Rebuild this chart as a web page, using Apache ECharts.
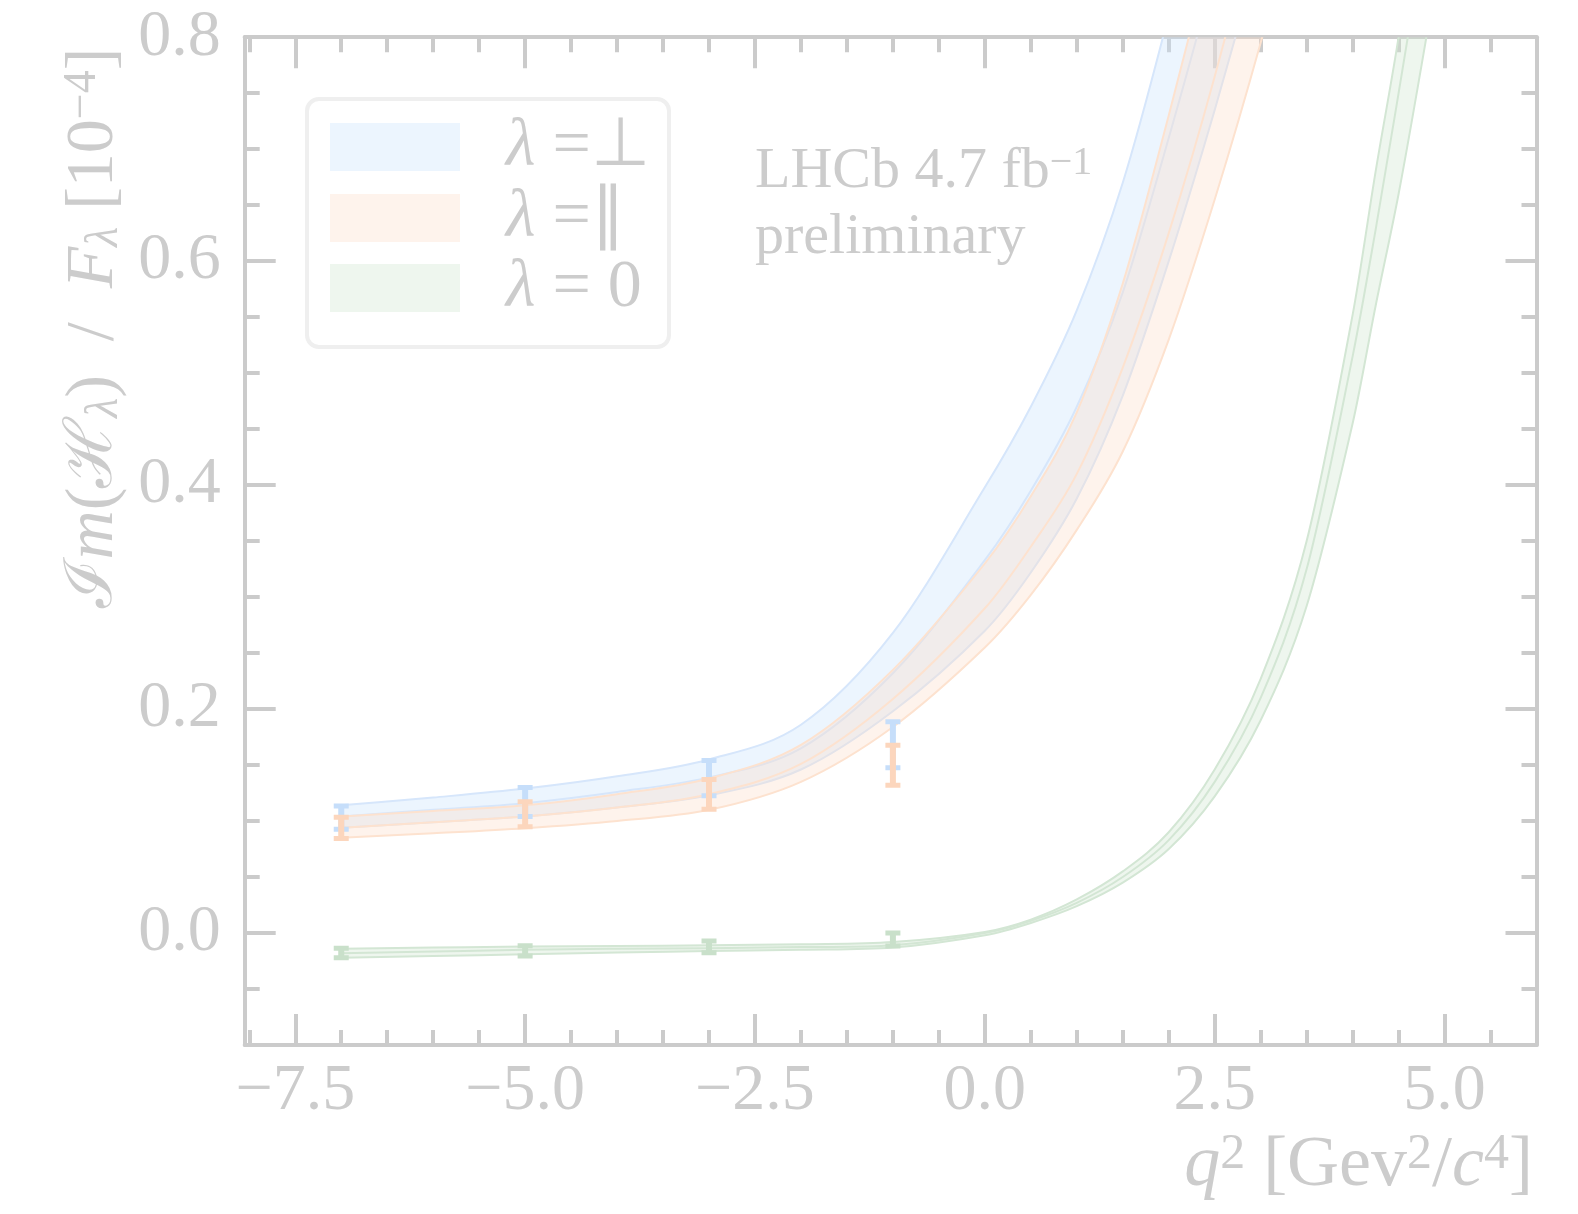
<!DOCTYPE html>
<html>
<head>
<meta charset="utf-8">
<script src="https://cdn.jsdelivr.net/npm/echarts@6/dist/echarts.min.js"></script>
<style>
  html, body { margin: 0; padding: 0; background: #ffffff; }
  #chart { width: 1578px; height: 1214px; }
</style>
</head>
<body>
<div id="chart"></div>
<script>
// ---- axis ticks ----
const xMajorTicks = [-7.5, -5.0, -2.5, 0.0, 2.5, 5.0];
const xMinorTicks = [-8.0, -7.0, -6.5, -6.0, -5.5, -4.5, -4.0, -3.5, -3.0, -2.0, -1.5, -1.0, -0.5,
                     0.5, 1.0, 1.5, 2.0, 3.0, 3.5, 4.0, 4.5, 5.5, 6.0];
const yMajorTicks = [0.0, 0.2, 0.4, 0.6, 0.8];
const yMinorTicks = [-0.05, 0.05, 0.1, 0.15, 0.25, 0.3, 0.35, 0.45, 0.5, 0.55, 0.65, 0.7, 0.75];

// ---- fitted bands: lambda = perp ----
const qPerp      = [-7, -6, -5, -4, -3, -2, -1, 0, 0.5, 1, 1.5, 2, 2.5, 3];
const perpLower  = [0.094, 0.099, 0.104, 0.112, 0.123, 0.146, 0.198, 0.270, 0.322, 0.388, 0.480, 0.600, 0.735, 0.880];
const perpCenter = [0.104, 0.110, 0.116, 0.126, 0.139, 0.165, 0.232, 0.333, 0.395, 0.470, 0.572, 0.710, 0.860, 1.030];
const perpUpper  = [0.114, 0.121, 0.129, 0.140, 0.155, 0.186, 0.268, 0.398, 0.470, 0.556, 0.670, 0.820, 0.990, 1.180];

// ---- fitted bands: lambda = parallel ----
const qPar      = [-7, -6, -5, -4, -3, -2, -1, 0, 0.5, 1, 1.5, 2, 2.5, 3, 3.5];
const parLower  = [0.085, 0.089, 0.0935, 0.100, 0.110, 0.135, 0.184, 0.255, 0.302, 0.360, 0.430, 0.530, 0.655, 0.795, 0.950];
const parCenter = [0.094, 0.099, 0.104, 0.112, 0.124, 0.151, 0.209, 0.290, 0.345, 0.410, 0.505, 0.625, 0.765, 0.925, 1.100];
const parUpper  = [0.104, 0.109, 0.114, 0.124, 0.138, 0.168, 0.235, 0.330, 0.390, 0.465, 0.580, 0.730, 0.890, 1.060, 1.250];

// ---- fitted bands: lambda = 0 ----
const qZero      = [-7, -6, -5, -4, -3, -2, -1, 0, 0.5, 1, 1.5, 2, 2.5, 3, 3.5, 4, 4.25, 4.5, 4.75, 5];
const zeroLower  = [-0.022, -0.0205, -0.019, -0.0175, -0.016, -0.015, -0.013, -0.002, 0.009, 0.024, 0.045, 0.075, 0.122, 0.190, 0.292, 0.455, 0.560, 0.660, 0.775, 0.895];
const zeroCenter = [-0.018, -0.0165, -0.015, -0.014, -0.0135, -0.0125, -0.011, 0.000, 0.011, 0.027, 0.050, 0.083, 0.135, 0.210, 0.325, 0.515, 0.628, 0.750, 0.875, 1.000];
const zeroUpper  = [-0.014, -0.013, -0.012, -0.0115, -0.011, -0.010, -0.008, 0.001, 0.012, 0.030, 0.055, 0.090, 0.146, 0.227, 0.350, 0.552, 0.680, 0.800, 0.940, 1.080];

// ---- measurements with uncertainties ----
const qPoints   = [-7, -5, -3, -1];
const perpErrLo = [0.0926, 0.104, 0.1226, 0.1476];
const perpErrHi = [0.1134, 0.130, 0.154, 0.1887];
const parErrLo  = [0.0845, 0.0949, 0.1105, 0.132];
const parErrHi  = [0.1033, 0.1173, 0.137, 0.1676];
const zeroErrLo = [-0.022, -0.0205, -0.0176, -0.0116];
const zeroErrHi = [-0.0137, -0.0113, -0.0071, 0.0];

const AXIS = '#cbcbcb';
const TEXT = '#cccccc';
const SERIF = '"Liberation Serif", "Times New Roman", serif';
const CAL = '"DejaVu Serif", "Liberation Serif", serif';

const fmt = v => v.toFixed(1).replace('-', '\u2212');

// Cubic Hermite curve through pixel points (x increasing), as Bezier path commands
function curvePath(pts, cmd) {
  const n = pts.length;
  const forward = pts[n - 1][0] >= pts[0][0];
  const P = forward ? pts : pts.slice().reverse();
  const m = P.map((p, i) => {
    const a = P[Math.max(i - 1, 0)], b = P[Math.min(i + 1, n - 1)];
    return (b[1] - a[1]) / (b[0] - a[0]);
  });
  const segs = [];
  for (let i = 0; i < n - 1; i++) {
    const h = (P[i + 1][0] - P[i][0]) / 3;
    segs.push([[P[i][0] + h, P[i][1] + m[i] * h], [P[i + 1][0] - h, P[i + 1][1] - m[i + 1] * h], P[i + 1]]);
  }
  const f = v => v.toFixed(2);
  let d;
  if (forward) {
    d = cmd + f(P[0][0]) + ' ' + f(P[0][1]);
    segs.forEach(s => { d += ' C' + f(s[0][0]) + ' ' + f(s[0][1]) + ' ' + f(s[1][0]) + ' ' + f(s[1][1]) + ' ' + f(s[2][0]) + ' ' + f(s[2][1]); });
  } else {
    d = cmd + f(P[n - 1][0]) + ' ' + f(P[n - 1][1]);
    for (let i = n - 2; i >= 0; i--) {
      const s = segs[i];
      d += ' C' + f(s[1][0]) + ' ' + f(s[1][1]) + ' ' + f(s[0][0]) + ' ' + f(s[0][1]) + ' ' + f(P[i][0]) + ' ' + f(P[i][1]);
    }
  }
  return d;
}

function bandSeries(name, q, lo, mid, hi, fill, edge) {
  return {
    type: 'custom', name: name, silent: true, clip: true,
    xAxisIndex: 0, yAxisIndex: 0,
    encode: { x: 0, y: [1, 2, 3] },
    data: q.map((x, i) => [x, lo[i], mid[i], hi[i]]),
    renderItem: function (params, api) {
      if (params.dataIndex !== 0) return null;
      const n = params.dataInsideLength;
      const col = k => {
        const out = [];
        for (let i = 0; i < n; i++) out.push(api.coord([api.value(0, i), api.value(k, i)]));
        return out;
      };
      const pLo = col(1), pMid = col(2), pHi = col(3);
      const area = curvePath(pHi, 'M') + ' ' + curvePath(pLo.slice().reverse(), 'L') + ' Z';
      const lineStyle = { stroke: edge, lineWidth: 2, fill: null };
      return {
        type: 'group',
        children: [
          { type: 'path', shape: { pathData: area }, style: { fill: fill, stroke: null } },
          { type: 'path', shape: { pathData: curvePath(pLo, 'M') }, style: lineStyle },
          { type: 'path', shape: { pathData: curvePath(pHi, 'M') }, style: lineStyle },
          { type: 'path', shape: { pathData: curvePath(pMid, 'M') }, style: lineStyle }
        ]
      };
    }
  };
}

function errorSeries(name, lo, hi, color) {
  return {
    type: 'custom', name: name, silent: true, clip: true, z: 5,
    xAxisIndex: 0, yAxisIndex: 0,
    encode: { x: 0, y: [1, 2] },
    data: qPoints.map((q, i) => [q, lo[i], hi[i]]),
    renderItem: function (params, api) {
      const x = api.value(0);
      const pLo = api.coord([x, api.value(1)]);
      const pHi = api.coord([x, api.value(2)]);
      const hw = 7.5;
      const st = { stroke: color, lineWidth: 5 };
      return {
        type: 'group',
        children: [
          { type: 'line', shape: { x1: pLo[0], y1: pLo[1], x2: pHi[0], y2: pHi[1] },
            style: { stroke: color, lineWidth: 6 } },
          { type: 'line', shape: { x1: pLo[0] - hw, y1: pLo[1], x2: pLo[0] + hw, y2: pLo[1] }, style: st },
          { type: 'line', shape: { x1: pHi[0] - hw, y1: pHi[1], x2: pHi[0] + hw, y2: pHi[1] }, style: st }
        ]
      };
    }
  };
}

function xAxisDef(pos, ticks, len, showLine, showLabel) {
  return {
    type: 'value', min: -8.05, max: 6.0, position: pos,
    axisLine: { show: showLine, onZero: false, lineStyle: { color: AXIS, width: 4 } },
    axisTick: { show: true, inside: true, length: len, customValues: ticks,
                lineStyle: { color: AXIS, width: 4 } },
    axisLabel: { show: showLabel, customValues: ticks, formatter: fmt, color: TEXT,
                 fontSize: 66, fontFamily: SERIF, margin: 14 },
    splitLine: { show: false }
  };
}

function yAxisDef(pos, ticks, len, showLine, showLabel) {
  return {
    type: 'value', min: -0.1, max: 0.8, position: pos,
    axisLine: { show: showLine, onZero: false, lineStyle: { color: AXIS, width: 4 } },
    axisTick: { show: true, inside: true, length: len, customValues: ticks,
                lineStyle: { color: AXIS, width: 4 } },
    axisLabel: { show: showLabel, customValues: ticks, formatter: fmt, color: TEXT,
                 fontSize: 66, fontFamily: SERIF, margin: 24 },
    splitLine: { show: false }
  };
}

const supStyle = { fontSize: 46, fontFamily: SERIF, fill: TEXT, verticalAlign: 'top' };
const subStyle = { fontSize: 46, fontFamily: SERIF, fontStyle: 'italic', fill: TEXT, verticalAlign: 'bottom' };
const itStyle = { fontSize: 68, fontFamily: SERIF, fontStyle: 'italic', fill: TEXT };
const calStyle = { fontSize: 66, fontFamily: CAL, fill: TEXT };
const rmStyle = { fontSize: 68, fontFamily: SERIF, fill: TEXT };
const xSup = { fontSize: 50, fontFamily: SERIF, fill: TEXT, verticalAlign: 'top' };
const xIt = { fontSize: 72, fontFamily: SERIF, fontStyle: 'italic', fill: TEXT };
const xRm = { fontSize: 72, fontFamily: SERIF, fill: TEXT };

const legendRows = [
  { y: 147, fill: 'rgba(200,225,252,0.35)', text: '{it|\u03bb}{rm| =\u22a5}' },
  { y: 218, fill: 'rgba(252,222,200,0.35)', text: '{it|\u03bb}{rm| =\u2225}' },
  { y: 288, fill: 'rgba(205,228,207,0.35)', text: '{it|\u03bb}{rm| = 0}' }
];

const graphics = [
  { type: 'rect', shape: { x: 307, y: 99, width: 362, height: 248, r: 12 },
    style: { fill: 'rgba(255,255,255,0.8)', stroke: '#efefef', lineWidth: 4 }, z: 10 }
];
legendRows.forEach(r => {
  graphics.push({ type: 'rect', shape: { x: 330, y: r.y - 24, width: 130, height: 48 },
                  style: { fill: r.fill }, z: 11 });
  graphics.push({ type: 'text', x: 506, y: r.y, z: 11,
                  style: { text: r.text, align: 'left', verticalAlign: 'middle',
                           rich: { it: itStyle, rm: rmStyle } } });
});
graphics.push({ type: 'text', x: 755, y: 172, z: 11,
  style: { text: '{rm|LHCb 4.7 fb}{sup|\u22121}', align: 'left', verticalAlign: 'middle',
           rich: { rm: { fontSize: 58, fontFamily: SERIF, fill: TEXT },
                   sup: { fontSize: 40, fontFamily: SERIF, fill: TEXT, verticalAlign: 'top' } } } });
graphics.push({ type: 'text', x: 755, y: 238, z: 11,
  style: { text: 'preliminary', align: 'left', verticalAlign: 'middle',
           fontSize: 58, fontFamily: SERIF, fill: TEXT } });
// y-axis title, reading bottom to top
graphics.push({ type: 'text', x: 94, y: 328, rotation: Math.PI / 2, z: 11,
  style: { text: '{cal|\u2110}{it|m}{rm|(}{cal|\u210b}{sub|\u03bb}{rm|)  /  }{it|F}{sub|\u03bb}{rm| [10}{sup|\u22124}{rm|]}',
           align: 'center', verticalAlign: 'middle',
           rich: { it: itStyle, rm: rmStyle, sub: subStyle, sup: supStyle, cal: calStyle } } });
// x-axis title
graphics.push({ type: 'text', x: 1533, y: 1166, z: 11,
  style: { text: '{it|q}{sup|2}{rm| [Gev}{sup|2}{rm|/}{it|c}{sup|4}{rm|]}',
           align: 'right', verticalAlign: 'middle',
           rich: { it: xIt, rm: xRm, sup: xSup } } });

const chart = echarts.init(document.getElementById('chart'), null, { renderer: 'canvas' });
chart.setOption({
  animation: false,
  backgroundColor: '#ffffff',
  grid: { left: 244.7, top: 37.2, width: 1291.8, height: 1007.8, containLabel: false },
  xAxis: [
    xAxisDef('bottom', xMajorTicks, 31, true, true),
    xAxisDef('bottom', xMinorTicks, 15, false, false),
    xAxisDef('top', xMajorTicks, 31, true, false),
    xAxisDef('top', xMinorTicks, 15, false, false)
  ],
  yAxis: [
    yAxisDef('left', yMajorTicks, 31, true, true),
    yAxisDef('left', yMinorTicks, 15, false, false),
    yAxisDef('right', yMajorTicks, 31, true, false),
    yAxisDef('right', yMinorTicks, 15, false, false)
  ],
  series: [
    bandSeries('perp', qPerp, perpLower, perpCenter, perpUpper, 'rgba(200,225,252,0.35)', '#d6e6fb'),
    bandSeries('par', qPar, parLower, parCenter, parUpper, 'rgba(252,222,200,0.35)', '#fde2cf'),
    bandSeries('zero', qZero, zeroLower, zeroCenter, zeroUpper, 'rgba(205,228,207,0.35)', '#d3e6d4'),
    errorSeries('perp-err', perpErrLo, perpErrHi, '#c6defa'),
    errorSeries('par-err', parErrLo, parErrHi, '#fcd6bd'),
    errorSeries('zero-err', zeroErrLo, zeroErrHi, '#c9e0ca')
  ],
  graphic: { elements: graphics }
});
</script>
</body>
</html>
